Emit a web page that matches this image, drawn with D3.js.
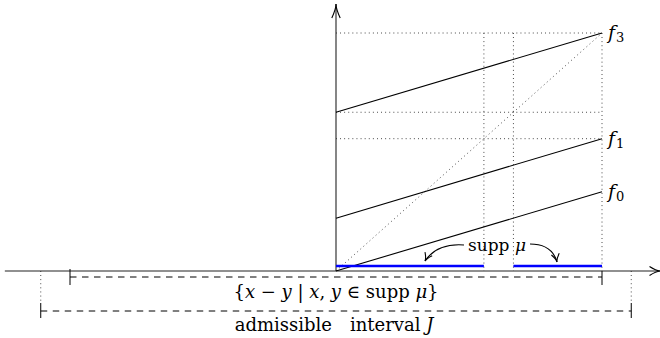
<!DOCTYPE html>
<html lang="en">
<head>
<meta charset="UTF-8">
<title></title>
<script src="https://d3js.org/d3.v7.min.js"></script>
<style>
  body{margin:0;background:#fff;}
</style>
</head>
<body>
<script>
// support of mu on [0,1]
const suppIntervals = [[0, 0.556], [0.667, 1]];
// affine maps f_i, value at x=0 and at x=1
const mapIndex = ["0", "1", "3"];
const mapStart = [0, 0.222, 0.667];
const mapEnd = [0.333, 0.556, 1];
// dotted guides
const guideLevels = [0.556, 0.667, 1];
const guideCuts = [0.556, 0.667, 1];
// intervals under the axis
const diffInterval = [-1, 1];
const admissibleJ = [-1.11, 1.11];
const axisX = [-1.245, 1.22];
const axisY = [0, 1.122];

const FONT = "'DejaVu Serif', 'Liberation Serif', serif";
const W = 660, H = 338;
const svg = d3.select("body").append("svg").attr("width", W).attr("height", H);

const x = d3.scaleLinear().domain([0, 1]).range([336, 602]);
const y = d3.scaleLinear().domain([0, 1]).range([271, 33]);

function line(x1, y1, x2, y2) {
	return svg.append("line")
		.attr("x1", x1).attr("y1", y1).attr("x2", x2).attr("y2", y2);
}
function dotted(x1, y1, x2, y2) {
	line(x1, y1, x2, y2).style("stroke", "#222").style("stroke-width", 0.9).style("stroke-dasharray", "0.9,3.2");
}
function label(px, py, size) {
	return svg.append("text").attr("x", px).attr("y", py)
		.attr("font-family", FONT).attr("font-size", size).attr("fill", "#000");
}
// tikz "to" style arrow tip at (tx,ty) pointing along angle a
function tip(tx, ty, a, L, s) {
	const bx = tx - L * Math.cos(a), by = ty - L * Math.sin(a);
	const nx = -Math.sin(a), ny = Math.cos(a);
	const cx = tx - 0.35 * L * Math.cos(a), cy = ty - 0.35 * L * Math.sin(a);
	const p = d3.path();
	p.moveTo(bx + nx * s, by + ny * s);
	p.quadraticCurveTo(cx, cy, tx, ty);
	p.quadraticCurveTo(cx, cy, bx - nx * s, by - ny * s);
	svg.append("path").attr("d", p.toString())
		.style("fill", "none").style("stroke", "#000").style("stroke-width", 1.1);
}

// dotted guides
guideLevels.forEach(function(v){ dotted(x(0), y(v), x(1), y(v)); });
guideCuts.forEach(function(v){ dotted(x(v), y(1), x(v), y(0)); });
dotted(x(0), y(0), x(1), y(1));

// axes
line(x(axisX[0]), y(0), x(axisX[1]), y(0)).style("stroke", "#222").style("stroke-width", 1.1);
tip(x(axisX[1]), y(0), 0, 11, 4.5);
line(x(0), y(0), x(0), y(axisY[1])).style("stroke", "#222").style("stroke-width", 1.1);
tip(x(0), y(axisY[1]), -Math.PI / 2, 14, 4.2);

// maps
mapIndex.forEach(function(k, i){
	line(x(0), y(mapStart[i]), x(1), y(mapEnd[i])).style("stroke", "#000").style("stroke-width", 1.1);
	const t = label(x(1) + 6, y(mapEnd[i]) + 6, 19);
	t.append("tspan").attr("font-style", "italic").text("f");
	t.append("tspan").attr("dx", 1).attr("dy", 3).attr("font-size", 13).text(k);
});

// support of mu
suppIntervals.forEach(function(d){
	line(x(d[0]), y(0) - 5, x(d[1]), y(0) - 5).style("stroke", "#0000ff").style("stroke-width", 2.6);
});
const sl = label(497, 251, 17).attr("text-anchor", "middle");
sl.append("tspan").text("supp ");
sl.append("tspan").attr("font-style", "italic").text("μ");
svg.append("path").attr("d", "M464,245 Q437,243 425,261").style("fill", "none").style("stroke", "#000").style("stroke-width", 1.1);
tip(425, 261, Math.atan2(261 - 245, 425 - 433), 8, 4);
svg.append("path").attr("d", "M530,244 Q552,244 557,262").style("fill", "none").style("stroke", "#000").style("stroke-width", 1.1);
tip(557, 262, Math.atan2(262 - 248, 557 - 554), 8, 4);

// difference set
const dy1 = y(0) + 6;
line(x(diffInterval[0]), dy1, x(diffInterval[1]), dy1).style("stroke", "#000").style("stroke-width", 1).style("stroke-dasharray", "6.5,5.5");
line(x(diffInterval[0]), y(0) - 2, x(diffInterval[0]), dy1 + 8).style("stroke", "#000").style("stroke-width", 1);
line(x(diffInterval[1]), y(0), x(diffInterval[1]), dy1 + 8).style("stroke", "#000").style("stroke-width", 1);
const d1 = label(x(0), 298, 18).attr("text-anchor", "middle");
d1.append("tspan").text("{");
d1.append("tspan").attr("font-style", "italic").text("x");
d1.append("tspan").text(" − ");
d1.append("tspan").attr("font-style", "italic").text("y");
d1.append("tspan").text(" | ");
d1.append("tspan").attr("font-style", "italic").text("x");
d1.append("tspan").text(", ");
d1.append("tspan").attr("font-style", "italic").text("y");
d1.append("tspan").text(" ∈ supp ");
d1.append("tspan").attr("font-style", "italic").text("μ");
d1.append("tspan").text("}");

// admissible interval
const dy2 = 311;
admissibleJ.forEach(function(v){
	dotted(x(v), y(0), x(v), dy2 - 8);
	line(x(v), dy2 - 8, x(v), dy2 + 7).style("stroke", "#000").style("stroke-width", 1);
});
line(x(admissibleJ[0]), dy2, x(admissibleJ[1]), dy2).style("stroke", "#000").style("stroke-width", 1).style("stroke-dasharray", "6.5,5.5");
const d2 = label(x(0) - 2, 331, 18).attr("text-anchor", "middle");
d2.append("tspan").text("admissible\u2002\u2002interval ");
d2.append("tspan").attr("font-style", "italic").text("J");
</script>
</body>
</html>
